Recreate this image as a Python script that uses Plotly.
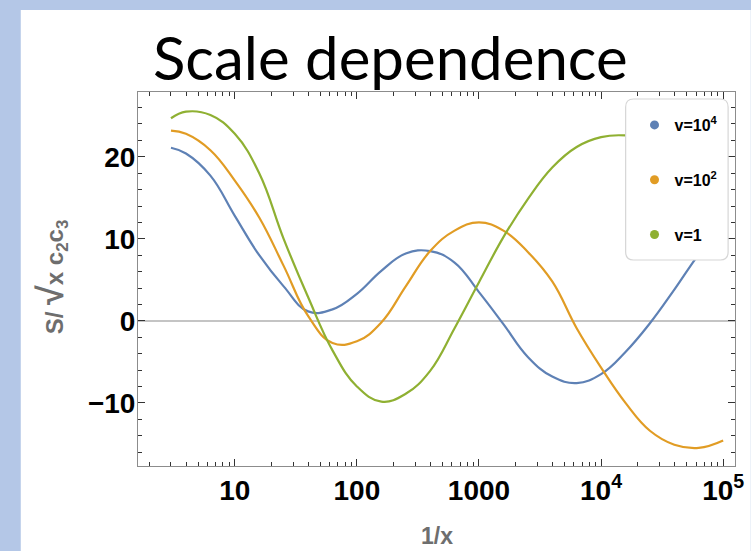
import plotly.graph_objects as go

# ---- data ----
x_grid = [3.0, 3.98, 6.31, 10, 15.85, 25.12, 39.81, 63.1, 100, 158.5, 251.2, 398.1, 631, 1000,
          1585, 2512, 3981, 6310, 10000, 15849, 25119, 39811, 63096, 100000]

y_v1e4 = [21.1, 20.4, 17.7, 12.8, 8.0, 4.2, 1.15, 1.4, 3.3, 6.1, 8.2, 8.5, 7.1, 3.5,
          -0.4, -4.4, -6.8, -7.6, -6.5, -3.8, -0.3, 3.8, 8.1, 11.8]
y_v1e2 = [23.2, 22.8, 20.8, 17.1, 12.6, 6.7, 0.6, -2.7, -2.5, -0.2, 4.2, 8.5, 11.0, 12.0,
          11.0, 8.4, 4.8, -0.9, -5.7, -10.0, -13.4, -15.1, -15.5, -14.6]
y_v1 = [24.7, 25.5, 25.1, 22.8, 18.0, 10.0, 2.9, -3.6, -8.0, -9.85, -8.9, -6.1, -0.9, 4.7,
        10.2, 14.85, 18.7, 21.2, 22.4, 22.6, 22.0, 21.0, 19.5, 17.5]

series_names = ["v=10<sup>4</sup>", "v=10<sup>2</sup>", "v=1"]
series_colors = ["#5E81B5", "#E19C24", "#8FB032"]

x_tickvals = [10, 100, 1000, 10000, 100000]
x_ticktext = ["10", "100", "1000", "10<sup>4</sup>", "10<sup>5</sup>"]
y_tickvals = [-10, 0, 10, 20]
y_ticktext = ["\u221210", "0", "10", "20"]

title_text = "Scale dependence"
x_label = "1/x"
y_label = "S/ <span style='font-size:36px'>\u221A</span>x c<sub>2</sub>c<sub>3</sub>"

# ---- layout geometry (pixels) ----
W, H = 751, 551
L, R, T, B = 138, 744, 92, 466
pw, ph = R - L, B - T


def px(xp):
    return (xp - L) / pw


def py(yp):
    return (B - yp) / ph


fig = go.Figure()
for ys, c in zip([y_v1e4, y_v1e2, y_v1], series_colors):
    fig.add_trace(go.Scatter(x=x_grid, y=ys, mode="lines",
                             line=dict(color=c, width=2.2, shape="spline", smoothing=1.2),
                             showlegend=False, hoverinfo="skip"))

# legend-only marker traces
for i, (name, c) in enumerate(zip(series_names, series_colors)):
    fig.add_trace(go.Scatter(x=[None], y=[None], mode="markers", name=name,
                             marker=dict(color=c, size=9), legendgroup=f"g{i}"))

minor_x = []
for d in range(0, 6):
    for k in range(2, 10):
        v = k * 10 ** d
        if 1.6 <= v <= 1.25e5:
            minor_x.append(v)

tick_font = dict(family="Liberation Sans, Arial, sans-serif", size=28, color="black", weight="bold")
fig.update_xaxes(type="log", range=[0.207, 5.097], showline=True, linecolor="#8c8c8c", linewidth=1,
                 mirror="allticks", ticks="inside", ticklen=7, tickcolor="#333", tickwidth=1,
                 tickvals=x_tickvals, ticktext=x_ticktext, tickfont=tick_font,
                 minor=dict(tickvals=minor_x, ticks="inside", ticklen=4, tickcolor="#333", tickwidth=1),
                 showgrid=False, zeroline=False, ticklabelstandoff=-1, ticklabeloverflow="allow")
fig.update_yaxes(range=[-17.7, 27.9], showline=True, linecolor="#8c8c8c", linewidth=1,
                 mirror="allticks", ticks="inside", ticklen=7, tickcolor="#333", tickwidth=1,
                 tickvals=y_tickvals, ticktext=y_ticktext, tickfont=tick_font,
                 minor=dict(dtick=2, tick0=0, ticks="inside", ticklen=4, tickcolor="#333", tickwidth=1),
                 showgrid=False, zeroline=True, zerolinecolor="#c4c4c4", zerolinewidth=1.5,
                 ticklabelstandoff=-4)

shapes = [
    # white slide area over the light-blue background
    dict(type="rect", xref="paper", yref="paper", x0=px(19), x1=px(760), y0=py(560), y1=py(10),
         fillcolor="white", line=dict(width=0), layer="below"),
]
# rounded legend box
lx0, lx1, ly0, ly1, r = px(633), px(737), py(260), py(99), 8
rx, ry = r / pw, r / ph
path = (f"M {lx0+rx},{ly0} L {lx1-rx},{ly0} Q {lx1},{ly0} {lx1},{ly0+ry} "
        f"L {lx1},{ly1-ry} Q {lx1},{ly1} {lx1-rx},{ly1} L {lx0+rx},{ly1} Q {lx0},{ly1} {lx0},{ly1-ry} "
        f"L {lx0},{ly0+ry} Q {lx0},{ly0} {lx0+rx},{ly0} Z")
shapes.append(dict(type="path", xref="paper", yref="paper", path=path, fillcolor="white",
                   line=dict(color="#d6d6d6", width=1.2), layer="above"))

annotations = [
    dict(text=title_text, xref="paper", yref="paper", x=px(151), y=py(57), xanchor="left", yanchor="middle",
         showarrow=False, font=dict(family="Lato, sans-serif", size=60, color="black")),
    dict(text="<b>" + x_label + "</b>", xref="paper", yref="paper", x=px(442), y=py(536), xanchor="center",
         yanchor="middle", showarrow=False,
         font=dict(family="Liberation Sans, Arial, sans-serif", size=23, color="#6e6e6e")),
    dict(text="<b>" + y_label + "</b>", xref="paper", yref="paper", x=px(50), y=py(277), xanchor="center",
         yanchor="middle", textangle=-90, showarrow=False,
         font=dict(family="Liberation Sans, Arial, sans-serif", size=24, color="#6e6e6e")),
]

fig.update_layout(
    width=W, height=H, autosize=False,
    margin=dict(l=L, r=W - R, t=T, b=H - B, pad=0),
    paper_bgcolor="#B4C7E7", plot_bgcolor="white",
    font=dict(family="Liberation Sans, Arial, sans-serif", color="black"),
    shapes=shapes, annotations=annotations,
    legend=dict(x=px(642), y=py(108), xanchor="left", yanchor="top", bgcolor="rgba(0,0,0,0)", borderwidth=0,
                font=dict(size=16, color="black", family="Liberation Sans, Arial, sans-serif", weight="bold"),
                tracegroupgap=31, itemwidth=30),
)

fig.write_html("out.html", config={"displayModeBar": False},
               post_script="document.body.style.margin='0px';document.body.style.background='#B4C7E7';")
